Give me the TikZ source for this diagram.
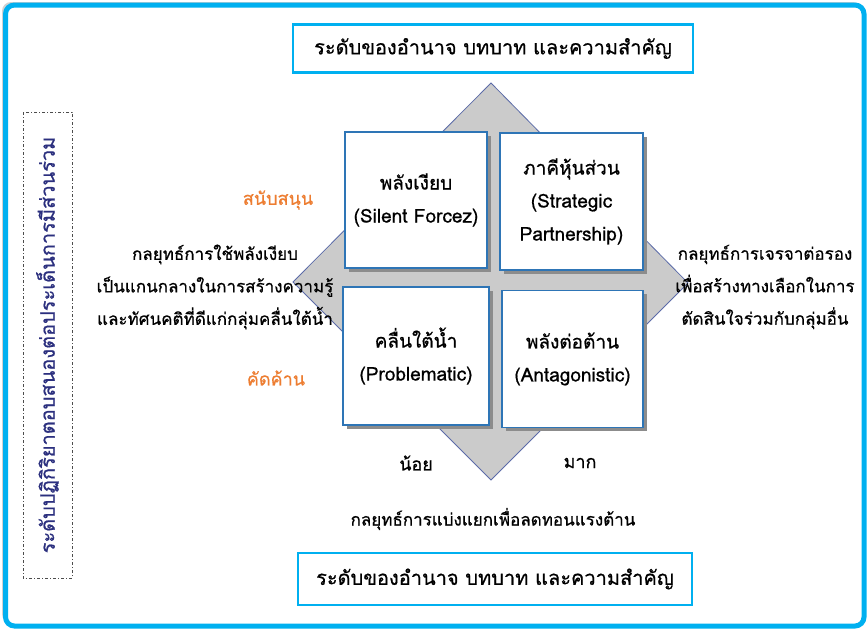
\documentclass[tikz,border=0pt]{standalone}
\usepackage{fontspec}
\setmainfont[Script=Thai,FakeBold=0.7]{Loma}
\usetikzlibrary{shadows}
\definecolor{frameblue}{HTML}{00B0F0}
\definecolor{boxblue}{HTML}{2E75B6}
\definecolor{dmdfill}{HTML}{CBCBCB}
\definecolor{dmdline}{HTML}{5B6BA8}
\definecolor{orangeT}{HTML}{ED7D31}
\definecolor{navyT}{HTML}{2B2F7E}
\begin{document}
\begin{tikzpicture}[x=1pt,y=-1pt,
  titlebox/.style={draw=frameblue, line width=2.6pt, fill=white, inner sep=0pt,
    font=\fontsize{20}{24}\selectfont},
  quad/.style={draw=boxblue, line width=1.8pt, fill=white,
    drop shadow={shadow xshift=3.5pt, shadow yshift=-3.5pt, fill=black!45, opacity=1},
    inner sep=0pt, align=center, font=\fontsize{19}{33}\selectfont},
  sidetext/.style={align=center, font=\fontsize{17}{32.5}\selectfont},
  orangelbl/.style={text=orangeT, font=\fontsize{18}{22}\selectfont},
  axislbl/.style={font=\fontsize{18}{22}\selectfont},
  vertbox/.style={draw=black!70, line width=0.7pt, dash pattern=on 3pt off 2pt on 1pt off 2pt,
    rotate=90, minimum width=466pt, minimum height=49pt, inner sep=0pt, text=navyT,
    font=\fontsize{20}{24}\selectfont}
]
\useasboundingbox (0,0) rectangle (868,630);
% outer frame
\fill[black!18, rounded corners=9pt] (2,2) rectangle (862,623);
\draw[frameblue, line width=5pt, fill=white, rounded corners=9pt] (5.5,5) rectangle (864,626);

% diamond
\coordinate (dt) at (491,83);
\coordinate (dr) at (688,283);
\coordinate (db) at (491,480);
\coordinate (dl) at (293,282);
\draw[dmdline, line width=0.8pt, fill=dmdfill] (dt) -- (dr) -- (db) -- (dl) -- cycle;

% title boxes
\node[titlebox, minimum width=400pt, minimum height=48pt] (top) at (493,48.5) {ระดับของอำนาจ บทบาท และความสำคัญ};
\node[titlebox, minimum width=394pt, minimum height=52pt] (bottom) at (495,579) {ระดับของอำนาจ บทบาท และความสำคัญ};

% quadrant boxes
\node[quad, minimum width=142pt, minimum height=136pt] (silent) at (416,200) {พลังเงียบ\\(Silent Forcez)};
\node[quad, minimum width=143pt, minimum height=137pt] (partner) at (571.5,201.5) {ภาคีหุ้นส่วน\\(Strategic\\Partnership)};
\node[quad, minimum width=146pt, minimum height=138pt] (problem) at (416,356) {คลื่นใต้น้ำ\\(Problematic)};
\node[quad, minimum width=141pt, minimum height=137pt] (antag) at (572.5,359) {พลังต่อต้าน\\(Antagonistic)};

% labels
\node[orangelbl] (support) at (278,200) {สนับสนุน};
\node[orangelbl] (oppose) at (276,378) {คัดค้าน};
\node[axislbl] (low) at (416,463) {น้อย};
\node[axislbl] (high) at (580,463) {มาก};

\node[sidetext] (lefttxt) at (215,287) {กลยุทธ์การใช้พลังเงียบ\\เป็นแกนกลางในการสร้างความรู้\\และทัศนคติที่ดีแก่กลุ่มคลื่นใต้น้ำ};
\node[sidetext] (righttxt) at (765,287) {กลยุทธ์การเจรจาต่อรอง\\เพื่อสร้างทางเลือกในการ\\ตัดสินใจร่วมกับกลุ่มอื่น};
\node[sidetext] (bottomtxt) at (493,519) {กลยุทธ์การแบ่งแยกเพื่อลดทอนแรงต้าน};

% vertical axis label
\node[vertbox] (vaxis) at (47.5,345) {ระดับปฏิกิริยาตอบสนองต่อประเด็นการมีส่วนร่วม};
\end{tikzpicture}
\end{document}
